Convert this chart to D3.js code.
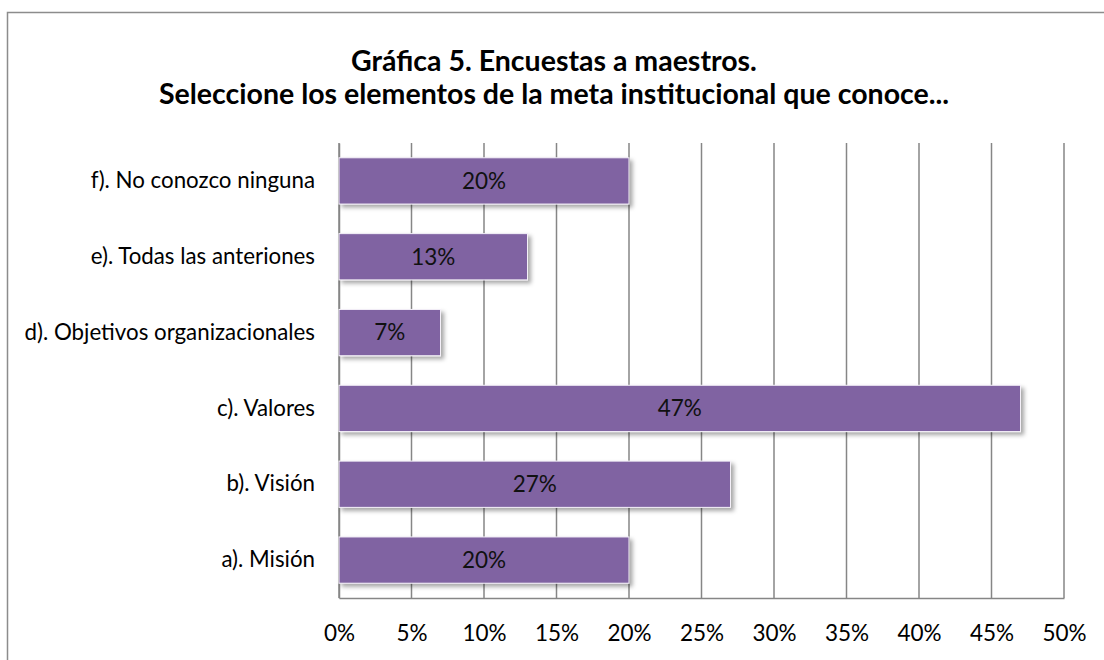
<!DOCTYPE html>
<html>
<head>
<meta charset="utf-8">
<script src="https://cdn.jsdelivr.net/npm/d3@7"></script>
<style>
  body { margin: 0; background: #fff; }
  text { font-family: Lato, "Open Sans", sans-serif; }
</style>
</head>
<body>
<script>
var categories = ['a). Misión', 'b). Visión', 'c). Valores', 'd). Objetivos organizacionales', 'e). Todas las anteriones', 'f). No conozco ninguna'];
var values = [20, 27, 47, 7, 13, 20];
var ticks = [0, 5, 10, 15, 20, 25, 30, 35, 40, 45, 50];
var titleLines = ['Gráfica 5. Encuestas a maestros.', 'Seleccione los elementos de la meta institucional que conoce...'];

var width = 1104,
    height = 660;

var margin = {left: 339, right: 40, top: 143, bottom: 62};

var svg = d3.select('body')
  .append('svg')
  .attr('width', width)
  .attr('height', height);

var defs = svg.append('defs');
var filter = defs.append('filter')
  .attr('id', 'shadow')
  .attr('x', '-5%').attr('y', '-20%')
  .attr('width', '120%').attr('height', '160%');
filter.append('feDropShadow')
  .attr('dx', 3).attr('dy', 3)
  .attr('stdDeviation', 2)
  .attr('flood-color', '#000')
  .attr('flood-opacity', 0.35);

// outer frame
svg.append('rect')
  .attr('x', 7.5).attr('y', 12.5)
  .attr('width', width + 10).attr('height', height + 10)
  .attr('fill', 'none')
  .attr('stroke', '#8c8c8c')
  .attr('stroke-width', 1.5);

// title
svg.append('g')
  .selectAll('text')
  .data(titleLines)
  .enter()
  .append('text')
  .attr('x', 554)
  .attr('y', function(d, i) { return 71 + i * 33; })
  .attr('text-anchor', 'middle')
  .attr('font-size', 28.5)
  .attr('font-weight', 'bold')
  .attr('fill', '#000')
  .text(function(d) { return d; });

var x = d3.scaleLinear()
  .domain([0, 50])
  .range([margin.left, width - margin.right]);

var y = d3.scaleBand()
  .domain(categories)
  .range([height - margin.bottom, margin.top])
  .paddingInner(0.39)
  .paddingOuter(0.195);

// grid
svg.append('g')
  .selectAll('line')
  .data(ticks)
  .enter()
  .append('line')
  .attr('x1', function(d) { return x(d); })
  .attr('x2', function(d) { return x(d); })
  .attr('y1', margin.top)
  .attr('y2', height - margin.bottom)
  .attr('stroke', '#868686')
  .attr('stroke-width', 1.5);

// bottom axis
var xAxis = svg.append('g')
  .attr('transform', 'translate(0,' + (height - margin.bottom) + ')')
  .call(d3.axisBottom(x)
    .tickValues(ticks)
    .tickSize(0)
    .tickPadding(27)
    .tickFormat(function(d) { return d + '%'; }));
xAxis.select('.domain').attr('stroke', '#868686').attr('stroke-width', 1.5);
xAxis.selectAll('text').attr('font-size', 22.5).attr('fill', '#000')
  .attr('font-family', 'Lato, "Open Sans", sans-serif');

// left axis
var yAxis = svg.append('g')
  .attr('transform', 'translate(' + margin.left + ',0)')
  .call(d3.axisLeft(y).tickSize(0).tickPadding(24));
yAxis.select('.domain').attr('stroke', '#868686').attr('stroke-width', 1.5);
yAxis.selectAll('text').attr('font-size', 22.3).attr('fill', '#000')
  .attr('font-family', 'Lato, "Open Sans", sans-serif');

// bars
var bars = svg.append('g')
  .selectAll('rect')
  .data(values)
  .enter()
  .append('rect')
  .attr('x', x(0))
  .attr('y', function(d, i) { return y(categories[i]); })
  .attr('width', function(d) { return x(d) - x(0); })
  .attr('height', y.bandwidth())
  .attr('fill', '#8064a2')
  .attr('stroke', '#f4f0f8')
  .attr('stroke-width', 1)
  .attr('filter', 'url(#shadow)');

svg.append('g')
  .selectAll('text')
  .data(values)
  .enter()
  .append('text')
  .attr('x', function(d) { return (x(0) + x(d)) / 2; })
  .attr('y', function(d, i) { return y(categories[i]) + y.bandwidth() / 2; })
  .attr('dy', '0.35em')
  .attr('text-anchor', 'middle')
  .attr('font-size', 22.5)
  .attr('fill', '#111')
  .text(function(d) { return d + '%'; });
</script>
</body>
</html>
